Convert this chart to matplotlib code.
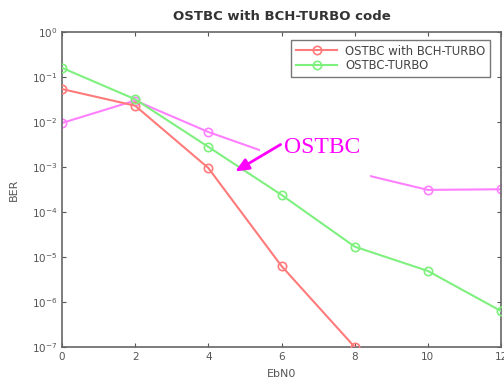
import matplotlib
matplotlib.use("Agg")
import matplotlib.pyplot as plt
from matplotlib.patches import Rectangle
import numpy as np

ebn0 = [0, 2, 4, 6, 8, 10, 12]
ber_bch_turbo = [5.4e-2, 2.3e-2, 9.5e-4, 6.3e-6, 1.0e-7]
ber_turbo = [1.6e-1, 3.2e-2, 2.8e-3, 2.4e-4, 1.7e-5, 4.9e-6, 6.3e-7]
ber_ostbc = [9.5e-3, 3.0e-2, 6.0e-3, 1.6e-3, 7.6e-4, 3.1e-4, 3.2e-4]

xticks = [0, 2, 4, 6, 8, 10, 12]

fig = plt.figure(figsize=(5.04, 3.81), dpi=100)
ax = fig.add_axes([62/504, 1-347/381, (501-62)/504, (347-32)/381])

c_red = '#ff7a7a'
c_green = '#7ef07e'
c_mag = '#ff80ff'

ax.semilogy(ebn0[:len(ber_bch_turbo)], ber_bch_turbo, '-o', color=c_red, lw=1.5,
            ms=6, mfc='none', mew=1.2, label='OSTBC with BCH-TURBO', zorder=3)
ax.semilogy(ebn0, ber_turbo, '-o', color=c_green, lw=1.5, ms=6, mfc='none',
            mew=1.2, label='OSTBC-TURBO', zorder=3)
ax.semilogy(ebn0, ber_ostbc, '-o', color=c_mag, lw=1.5, ms=6, mfc='none',
            mew=1.2, zorder=2)

ax.set_xlim(0, 12)
ax.set_ylim(1e-7, 1)
ax.set_xticks(xticks)
ax.set_xticklabels([str(v) for v in xticks])
ax.tick_params(which='both', direction='in', top=True, right=True, labelsize=7.5,
               colors='#555555', length=3)
ax.tick_params(which='minor', length=0)
for s in ax.spines.values():
    s.set_color('#666666')
    s.set_linewidth(1.2)

ax.set_title('OSTBC with BCH-TURBO code', fontsize=9.5, fontweight='bold', color='#333333', pad=9)
ax.set_xlabel('EbN0', fontsize=8, color='#555555', labelpad=5)
ax.set_ylabel('BER', fontsize=8, color='#555555', labelpad=9)

leg = ax.legend(loc='upper right', fontsize=8.4, frameon=True, fancybox=False,
                edgecolor='#555555', handlelength=3.5, borderpad=0.4,
                labelspacing=0.12, borderaxespad=0, handletextpad=0.7,
                bbox_to_anchor=(0.975, 0.975))
for t in leg.get_texts():
    t.set_color('#444444')

# white text box of the annotation (covers part of the magenta curve)
ax.add_patch(Rectangle((0.451, 0.533), 0.251, 0.194, transform=ax.transAxes,
                       facecolor='white', edgecolor='none', zorder=2.5))
ax.text(7.1, 2.75e-3, 'OSTBC', fontsize=17, family='Liberation Serif',
        color='#ff00ff', ha='center', va='center', zorder=5)
ax.annotate('', xy=(4.67, 7.4e-4), xytext=(6.04, 3.4e-3),
            arrowprops=dict(arrowstyle='-|>,head_length=0.8,head_width=0.35',
                            color='#ff00ff', lw=2), zorder=6)

fig.savefig('out.png', dpi=100)
